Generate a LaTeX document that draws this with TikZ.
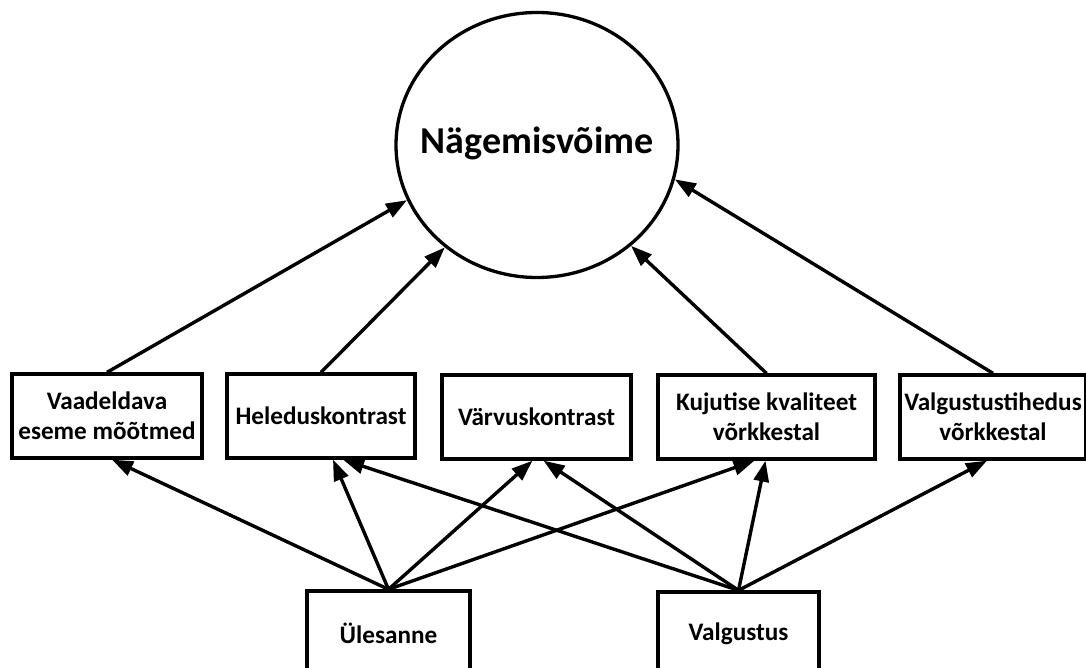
\documentclass[tikz,border=0pt]{standalone}
\usepackage{fontspec}
\setmainfont{Carlito}
\usetikzlibrary{shapes.geometric,arrows.meta,calc}

\tikzset{
  factor/.style={draw, line width=3.3pt, fill=white, inner sep=0pt,
    minimum height=84pt, align=center,
    font=\bfseries\fontsize{25.2}{30}\selectfont},
  goal/.style={draw, ellipse, line width=3.3pt, inner sep=0pt,
    minimum width=282pt, minimum height=265pt},
  goaltext/.style={inner sep=0pt, font=\bfseries\fontsize{38}{40}\selectfont},
  link/.style={line width=3.4pt, -{Triangle[length=21pt,width=15pt]}},
}

\begin{document}
\begin{tikzpicture}[x=1pt, y=-1pt]
  \useasboundingbox (0,0) rectangle (1086,668);

  % central outcome
  \node[goal] (vision) at (537,145) {};
  \node[goaltext] (visiontext) at (537,143) {Nägemisvõime};

  % intermediate factors
  \node[factor, minimum width=190pt] (size)    at (107,416) {Vaadeldava\\eseme mõõtmed};
  \node[factor, minimum width=188pt] (lum)     at (321,416) {Heleduskontrast};
  \node[factor, minimum width=189pt] (colour)  at (536.5,417) {Värvuskontrast};
  \node[factor, minimum width=217pt] (quality) at (766.5,417) {Kujutise kvaliteet\\võrkkestal};
  \node[factor, minimum width=186pt] (illum)   at (993,417) {Valgustustihedus\\võrkkestal};

  % root causes
  \node[factor, minimum width=163pt] (task)  at (388.5,633) {Ülesanne};
  \node[factor, minimum width=161pt] (light) at (738.5,634) {Valgustus};

  % factors acting on vision
  \draw[link] (size.north)    -- (vision.203);
  \draw[link] (lum.north)     -- (vision.228);
  \draw[link] (quality.north) -- (vision.313);
  \draw[link] (illum.north)   -- (vision.346);

  % task influences
  \draw[link] (task.north) -- ([xshift=5pt]size.south);
  \draw[link] (task.north) -- ([xshift=12pt]lum.south);
  \draw[link] (task.north) -- ([xshift=-4pt]colour.south);
  \draw[link] (task.north) -- ([xshift=-12pt]quality.south);

  % lighting influences
  \draw[link] (light.north) -- ([xshift=22pt]lum.south);
  \draw[link] (light.north) -- ([xshift=7pt]colour.south);
  \draw[link] (light.north) -- ([xshift=-1pt]quality.south);
  \draw[link] (light.north) -- ([xshift=-6pt]illum.south);
\end{tikzpicture}
\end{document}
